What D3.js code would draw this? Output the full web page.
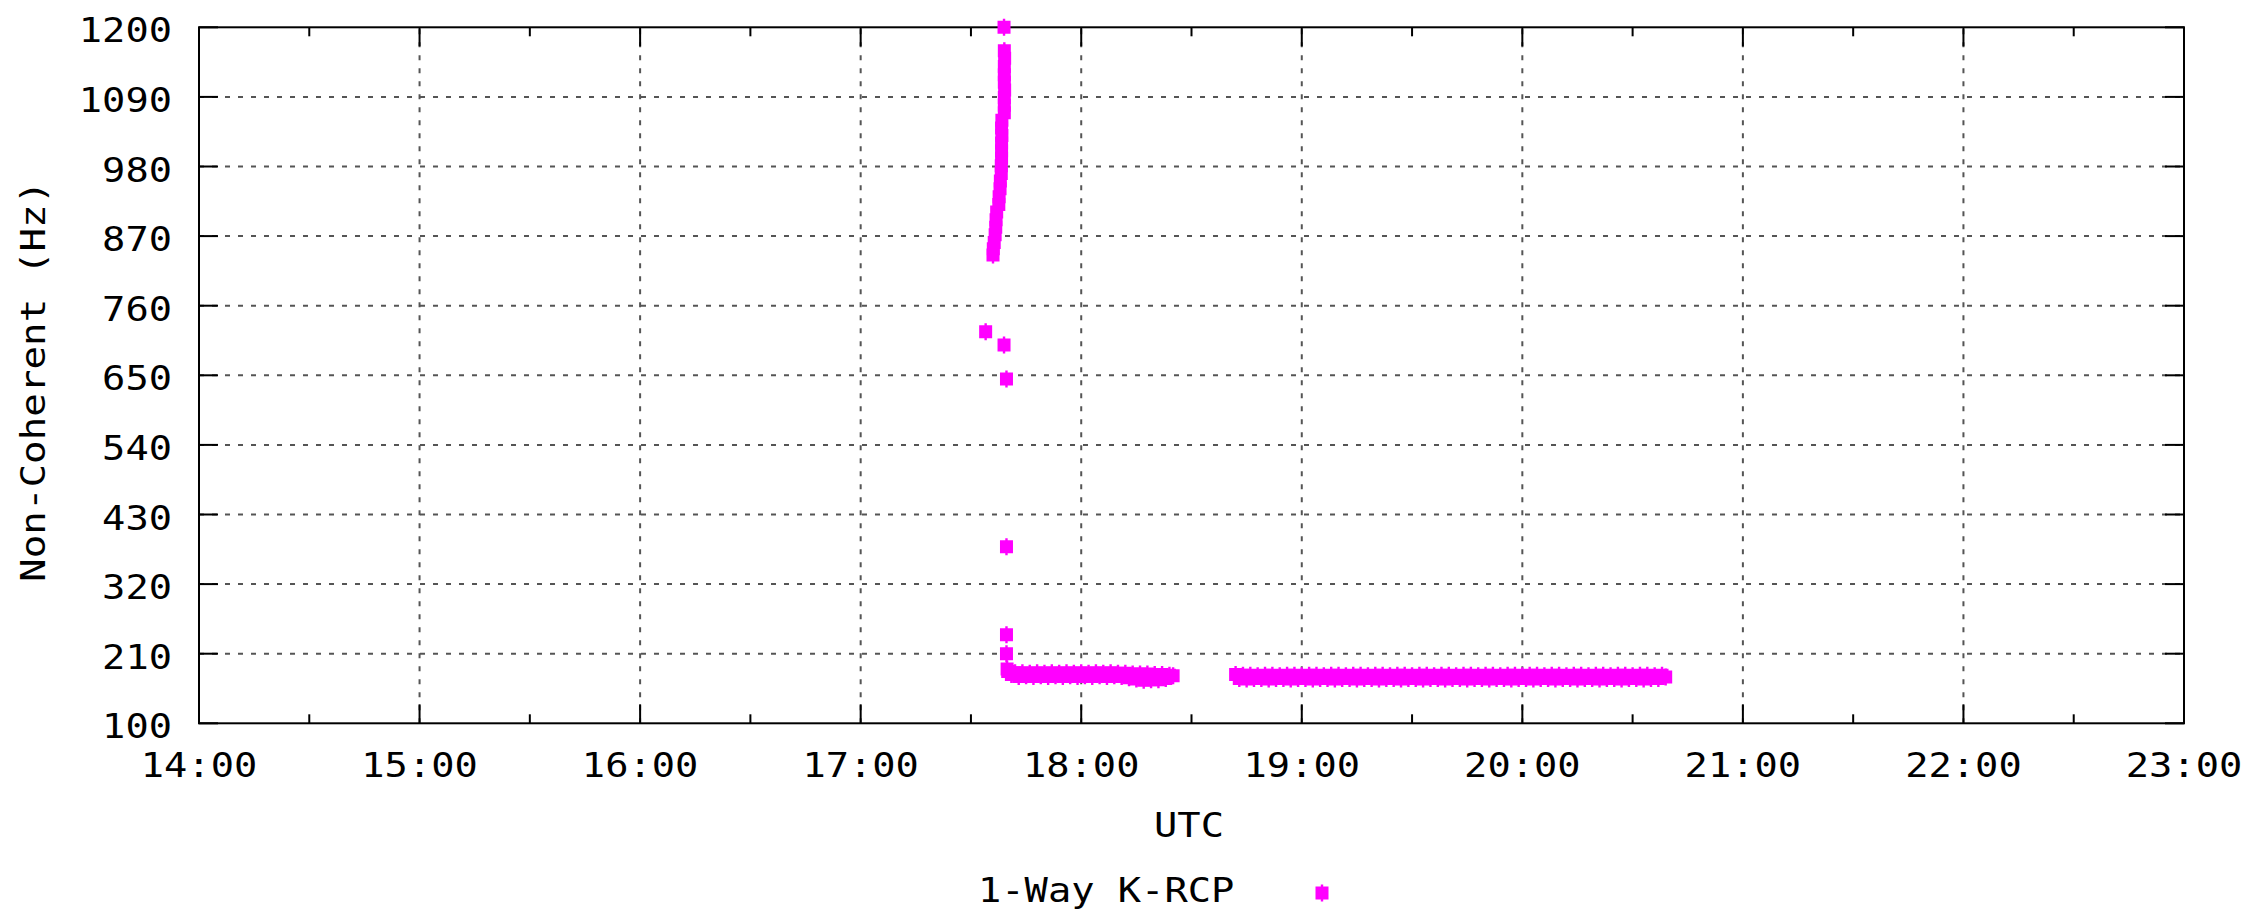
<!DOCTYPE html>
<html>
<head>
<meta charset="utf-8">
<script src="https://cdn.jsdelivr.net/npm/d3@7"></script>
<style>
  html, body { margin: 0; padding: 0; background: #fff; }
  svg { display: block; }
  text { font-family: "DejaVu Sans Mono", "Liberation Mono", monospace; fill: #000; }
</style>
</head>
<body>
<svg id="chart" width="2255" height="916"></svg>
<script>
// ---- data ----
const xDomain = ["14:00", "23:00"];
const yTicks = [100, 210, 320, 430, 540, 650, 760, 870, 980, 1090, 1200];
const seriesName = "1-Way K-RCP";
const xLabel = "UTC";
const yLabel = "Non-Coherent (Hz)";

// steep climb near 17:36-17:39
const climbTimes = ["17:36:00","17:36:05","17:36:20","17:36:35","17:36:45","17:36:50","17:37:00","17:37:35","17:37:40","17:37:55",
                    "17:38:00","17:38:15","17:38:15","17:38:20","17:38:20","17:38:20","17:38:25","17:38:20","17:38:25","17:39:05",
                    "17:39:05","17:39:05","17:39:10","17:39:05","17:39:05","17:39:05","17:39:10","17:39:05","17:39:00"];
const climbHz    = [840,850,860,872,884,896,908,920,932,945,
                    957,969,981,993,1005,1017,1029,1041,1053,1065,
                    1077,1089,1101,1113,1125,1138,1151,1163,1200];

// isolated points
const outlierTimes = ["17:34:00","17:39:00","17:39:40","17:39:40","17:39:40","17:39:40"];
const outlierHz    = [719, 698, 644, 379, 240, 210];

// first pass (17:40 - 18:25)
const pass1Times = ["17:39:50",
  "17:40","17:41","17:42","17:43","17:44","17:45","17:46","17:47","17:48","17:49",
  "17:50","17:51","17:52","17:53","17:54","17:55","17:56","17:57","17:58","17:59",
  "18:00","18:01","18:02","18:03","18:04","18:05","18:06","18:07","18:08","18:09",
  "18:10","18:11","18:12","18:13","18:14","18:15","18:16","18:17","18:18","18:19",
  "18:20","18:21","18:22","18:23","18:24","18:25"];
const pass1Hz = [186,
  182,177,180,174,180,175,179,174,180,175,
  179,174,180,175,179,174,180,175,179,174,
  180,175,179,174,180,175,179,174,180,175,
  179,174,179,172,178,170,178,168,178,169,
  177,169,177,171,176,175];

// second pass (18:42 - 20:39)
const pass2Times = [
  "18:42","18:43","18:44","18:45","18:46","18:47","18:48","18:49","18:50","18:51",
  "18:52","18:53","18:54","18:55","18:56","18:57","18:58","18:59","19:00","19:01",
  "19:02","19:03","19:04","19:05","19:06","19:07","19:08","19:09","19:10","19:11",
  "19:12","19:13","19:14","19:15","19:16","19:17","19:18","19:19","19:20","19:21",
  "19:22","19:23","19:24","19:25","19:26","19:27","19:28","19:29","19:30","19:31",
  "19:32","19:33","19:34","19:35","19:36","19:37","19:38","19:39","19:40","19:41",
  "19:42","19:43","19:44","19:45","19:46","19:47","19:48","19:49","19:50","19:51",
  "19:52","19:53","19:54","19:55","19:56","19:57","19:58","19:59","20:00","20:01",
  "20:02","20:03","20:04","20:05","20:06","20:07","20:08","20:09","20:10","20:11",
  "20:12","20:13","20:14","20:15","20:16","20:17","20:18","20:19","20:20","20:21",
  "20:22","20:23","20:24","20:25","20:26","20:27","20:28","20:29","20:30","20:31",
  "20:32","20:33","20:34","20:35","20:36","20:37","20:38","20:39"];
const pass2Hz = [
  177,171,176,170,176,171,175,171,176,170,
  176,171,175,171,176,170,176,171,175,171,
  176,170,176,171,175,171,176,170,176,171,
  175,171,176,170,176,171,175,171,176,170,
  176,171,175,171,176,170,176,171,175,171,
  176,170,176,171,175,171,176,170,176,171,
  175,171,176,170,176,171,175,171,176,170,
  176,171,175,171,176,170,176,171,175,171,
  176,170,176,171,175,171,176,170,176,171,
  175,171,176,170,176,171,175,171,176,170,
  176,171,175,171,176,170,176,171,175,171,
  176,170,176,171,175,171,176,173];

// ---- layout ----
const W = 2255, H = 916;
const margin = { left: 199, right: 71, top: 27.3, bottom: 192.7 };
const plotW = W - margin.left - margin.right;
const plotH = H - margin.top - margin.bottom;
const color = "#ff00ff";
const charW = 23.3;

const parseT = s => d3.timeParse(s.length > 5 ? "%H:%M:%S" : "%H:%M")(s);

const x = d3.scaleTime().domain(xDomain.map(parseT)).range([margin.left, margin.left + plotW]);
const y = d3.scaleLinear().domain([100, 1200]).range([margin.top + plotH, margin.top]);

const svg = d3.select("#chart");
svg.append("rect").attr("width", W).attr("height", H).attr("fill", "#fff");

const hourTicks = x.ticks(d3.timeHour.every(1));
const halfTicks = x.ticks(d3.timeMinute.every(30)).filter(d => d.getMinutes() === 30);

// grid
const grid = svg.append("g").attr("stroke", "#555").attr("stroke-width", 2).attr("stroke-dasharray", "5,8");
grid.selectAll("line.v").data(hourTicks.slice(1, -1)).join("line")
  .attr("x1", d => x(d)).attr("x2", d => x(d))
  .attr("y1", y(100)).attr("y2", y(1200));
grid.selectAll("line.h").data(yTicks.slice(1, -1)).join("line")
  .attr("x1", x.range()[0]).attr("x2", x.range()[1])
  .attr("y1", d => y(d)).attr("y2", d => y(d));

// frame
svg.append("rect")
  .attr("x", x.range()[0]).attr("y", y(1200))
  .attr("width", plotW).attr("height", plotH)
  .attr("fill", "none").attr("stroke", "#000").attr("stroke-width", 2);

// ticks (inward, mirrored)
const ticks = svg.append("g").attr("stroke", "#000").attr("stroke-width", 2);
const major = 19, minor = 9;
hourTicks.forEach(d => {
  ticks.append("line").attr("x1", x(d)).attr("x2", x(d)).attr("y1", y(100)).attr("y2", y(100) - major);
  ticks.append("line").attr("x1", x(d)).attr("x2", x(d)).attr("y1", y(1200)).attr("y2", y(1200) + major);
});
halfTicks.forEach(d => {
  ticks.append("line").attr("x1", x(d)).attr("x2", x(d)).attr("y1", y(100)).attr("y2", y(100) - minor);
  ticks.append("line").attr("x1", x(d)).attr("x2", x(d)).attr("y1", y(1200)).attr("y2", y(1200) + minor);
});
yTicks.forEach(v => {
  ticks.append("line").attr("x1", x.range()[0]).attr("x2", x.range()[0] + major).attr("y1", y(v)).attr("y2", y(v));
  ticks.append("line").attr("x1", x.range()[1]).attr("x2", x.range()[1] - major).attr("y1", y(v)).attr("y2", y(v));
});

// tick labels
const fs = 33;
function label(g, str, xx, yy, anchor) {
  return g.append("text").attr("x", xx).attr("y", yy).attr("text-anchor", anchor)
    .attr("font-size", fs)
    .attr("textLength", str.length * charW).attr("lengthAdjust", "spacingAndGlyphs")
    .text(str);
}
const labels = svg.append("g");
const fmt = d3.timeFormat("%H:%M");
hourTicks.forEach(d => label(labels, fmt(d), x(d), 777, "middle"));
yTicks.forEach(v => label(labels, String(v), 172, y(v) + 15, "end"));

// axis titles
label(labels, xLabel, 1189, 836.5, "middle");
labels.append("text")
  .attr("transform", `translate(45, ${(y(100) + y(1200)) / 2 + 6}) rotate(-90)`)
  .attr("text-anchor", "middle").attr("font-size", fs)
  .attr("textLength", yLabel.length * 23.6).attr("lengthAdjust", "spacingAndGlyphs")
  .text(yLabel);

// points
const marker = "M-6.5,-6.5h13v13h-13z M-1.2,-8.5h2.4v17h-2.4z";
const pts = [];
[[climbTimes, climbHz], [outlierTimes, outlierHz], [pass1Times, pass1Hz], [pass2Times, pass2Hz]]
  .forEach(([ts, vs]) => ts.forEach((t, i) => pts.push({ t: parseT(t), v: vs[i] })));
svg.append("g").selectAll("path").data(pts).join("path")
  .attr("d", marker)
  .attr("transform", d => `translate(${x(d.t)},${y(d.v)})`)
  .attr("fill", color);

// legend
label(labels, seriesName, 978, 902, "start");
svg.append("path").attr("d", marker).attr("transform", "translate(1322,893)").attr("fill", color);
</script>
</body>
</html>
